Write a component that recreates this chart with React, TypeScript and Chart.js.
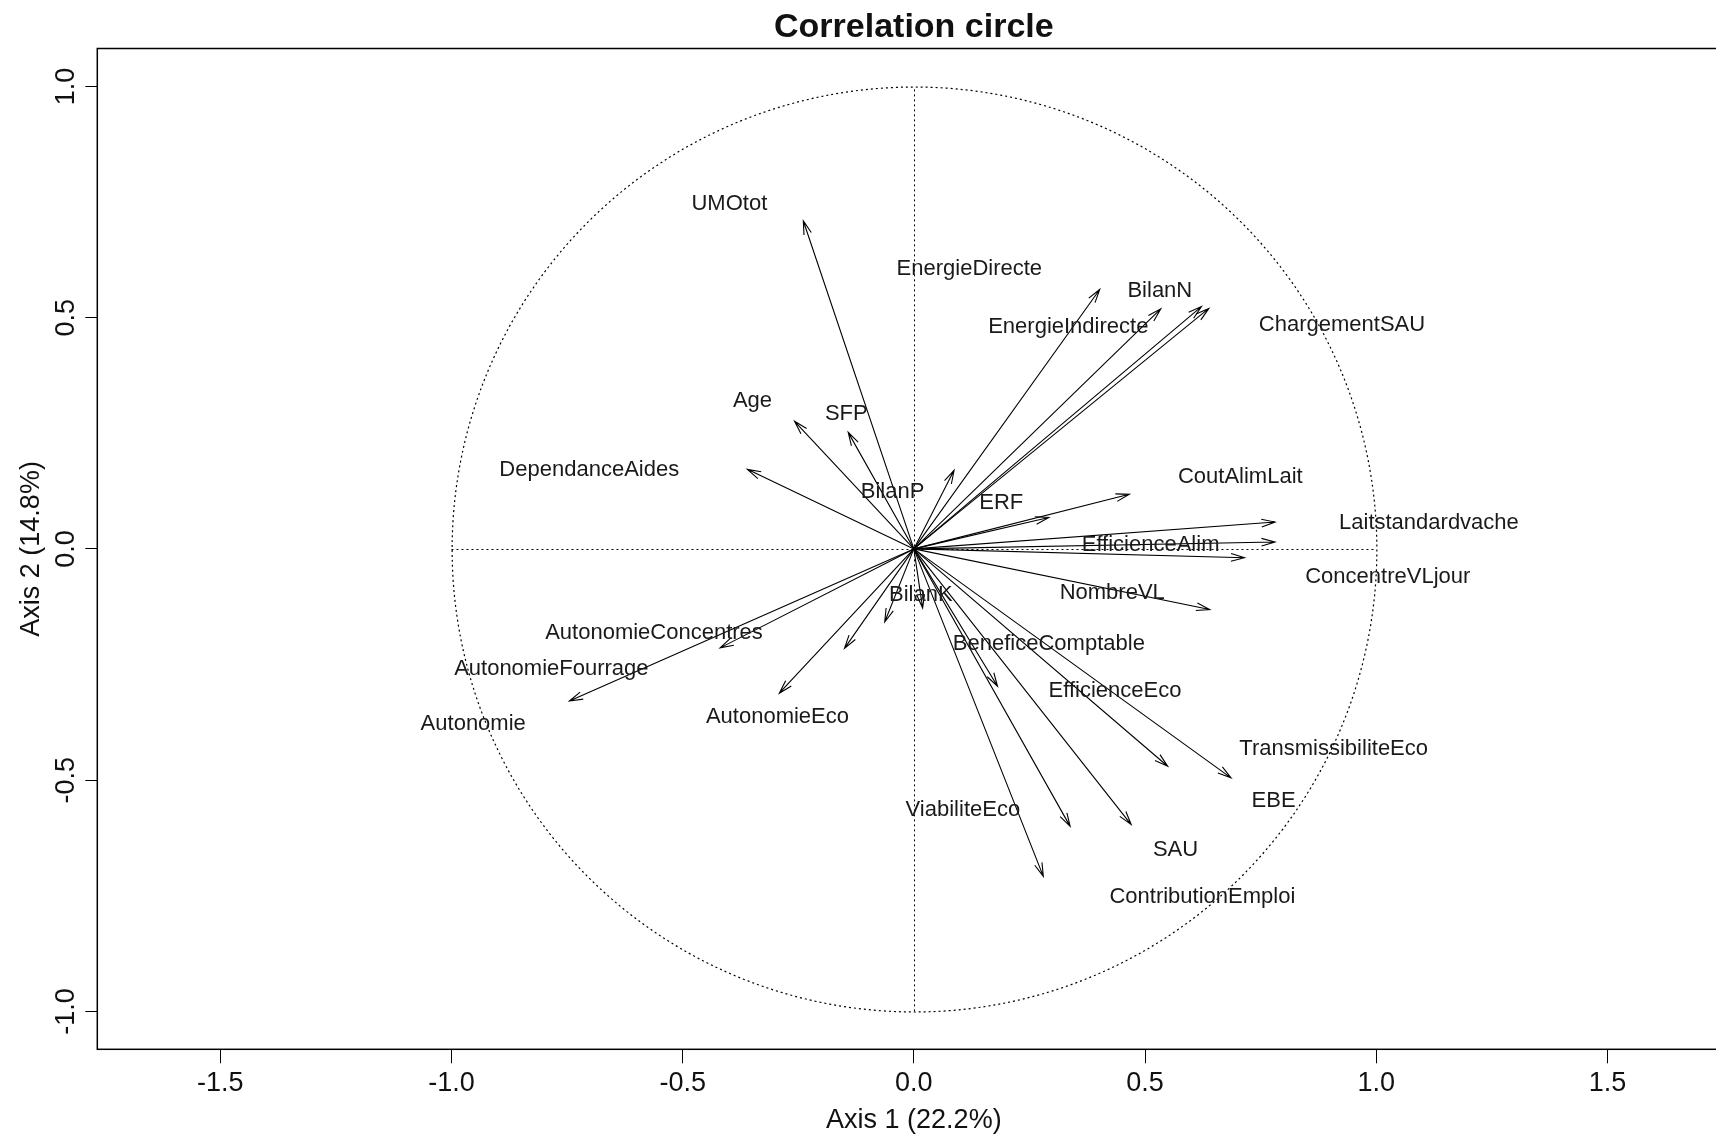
import React, { useEffect, useRef } from "react";
import { Chart, registerables } from "chart.js";

Chart.register(...registerables);

// ---- data ----
const arrowX = [
  -0.239, -0.258, -0.142, -0.36, 0.087, 0.402, 0.534, 0.622, 0.638, 0.292,
  0.466, 0.781, 0.781, 0.715, 0.64, 0.181, 0.549, 0.686, 0.338, 0.47, 0.28,
  0.019, -0.063, -0.15, -0.291, -0.419, -0.745,
];
const arrowY = [
  0.709, 0.276, 0.252, 0.172, 0.17, 0.561, 0.519, 0.524, 0.52, 0.068, 0.118,
  0.058, 0.015, -0.019, -0.131, -0.297, -0.47, -0.495, -0.6, -0.596, -0.708,
  -0.128, -0.158, -0.215, -0.312, -0.214, -0.329,
];

const labelNames = [
  "UMOtot", "EnergieDirecte", "BilanN", "EnergieIndirecte", "ChargementSAU",
  "Age", "SFP", "DependanceAides", "BilanP", "ERF", "CoutAlimLait",
  "Laitstandardvache", "EfficienceAlim", "ConcentreVLjour", "NombreVL",
  "BilanK", "AutonomieConcentres", "AutonomieFourrage", "Autonomie",
  "AutonomieEco", "BeneficeComptable", "EfficienceEco", "TransmissibiliteEco",
  "EBE", "ViabiliteEco", "SAU", "ContributionEmploi",
];
const labelX = [
  -0.399, 0.12, 0.532, 0.334, 0.926, -0.349, -0.146, -0.702, -0.046, 0.189,
  0.706, 1.114, 0.512, 1.025, 0.429, 0.015, -0.562, -0.784, -0.953, -0.295,
  0.292, 0.435, 0.908, 0.778, 0.106, 0.566, 0.624,
];
const labelY = [
  0.745, 0.605, 0.557, 0.48, 0.485, 0.319, 0.292, 0.17, 0.123, 0.1, 0.156,
  0.057, 0.0095, -0.061, -0.096, -0.099, -0.181, -0.259, -0.378, -0.363,
  -0.205, -0.308, -0.432, -0.546, -0.565, -0.652, -0.753,
];

const xTickValues = [-1.5, -1.0, -0.5, 0.0, 0.5, 1.0, 1.5];
const yTickValues = [-1.0, -0.5, 0.0, 0.5, 1.0];

const titleText = "Correlation circle";
const xAxisTitle = "Axis 1 (22.2%)";
const yAxisTitle = "Axis 2 (14.8%)";

// ---- layout ----
const VIEW_W = 1716;
const VIEW_H = 1138;
const CANVAS_W = 1760;
const CANVAS_H = 1138;
const AREA = { left: 97.3, top: 48.5, right: 1730.4, bottom: 1049.3 };
const X_MIN = -1.766;
const X_MAX = 1.766;
const Y_MIN = -1.082;
const Y_MAX = 1.082;
const FONT = "'Liberation Sans', Arial, sans-serif";

const corPlugin = {
  id: "corcircle",
  beforeDatasetsDraw(chart: any) {
    const { ctx, scales } = chart;
    const xs = scales.x;
    const ys = scales.y;
    const cx = Math.round(xs.getPixelForValue(0)) + 0.5;
    const cy = Math.round(ys.getPixelForValue(0)) + 0.5;
    const rx = xs.getPixelForValue(1) - xs.getPixelForValue(0);
    const ry = ys.getPixelForValue(0) - ys.getPixelForValue(1);
    ctx.save();
    ctx.strokeStyle = "#000";
    ctx.lineWidth = 1.2;
    ctx.setLineDash([2, 3]);
    ctx.beginPath();
    ctx.ellipse(cx, cy, rx, ry, 0, 0, Math.PI * 2);
    ctx.stroke();
    ctx.lineWidth = 1;
    ctx.beginPath();
    ctx.moveTo(xs.getPixelForValue(-1), cy);
    ctx.lineTo(xs.getPixelForValue(1), cy);
    ctx.moveTo(cx, ys.getPixelForValue(-1));
    ctx.lineTo(cx, ys.getPixelForValue(1));
    ctx.stroke();
    ctx.restore();
  },
  afterDatasetsDraw(chart: any) {
    const { ctx, scales, chartArea } = chart;
    const xs = scales.x;
    const ys = scales.y;
    const cx = xs.getPixelForValue(0);
    const cy = ys.getPixelForValue(0);

    // arrows
    const arrows = chart.getDatasetMeta(0).data;
    ctx.save();
    ctx.strokeStyle = "#000";
    ctx.lineWidth = 1.1;
    ctx.setLineDash([]);
    const headLen = 14;
    const headAng = (16 * Math.PI) / 180;
    arrows.forEach((pt: any) => {
      const px = pt.x;
      const py = pt.y;
      ctx.beginPath();
      ctx.moveTo(cx, cy);
      ctx.lineTo(px, py);
      const a = Math.atan2(py - cy, px - cx);
      ctx.moveTo(px - headLen * Math.cos(a - headAng), py - headLen * Math.sin(a - headAng));
      ctx.lineTo(px, py);
      ctx.lineTo(px - headLen * Math.cos(a + headAng), py - headLen * Math.sin(a + headAng));
      ctx.stroke();
    });
    ctx.restore();

    // variable labels
    const labels = chart.getDatasetMeta(1).data;
    ctx.save();
    ctx.fillStyle = "#1a1a1a";
    ctx.font = `22px ${FONT}`;
    ctx.textAlign = "center";
    ctx.textBaseline = "middle";
    labels.forEach((pt: any, i: number) => {
      ctx.fillText(labelNames[i], pt.x, pt.y);
    });
    ctx.restore();

    // box
    ctx.save();
    ctx.strokeStyle = "#000";
    ctx.lineWidth = 1.5;
    ctx.strokeRect(chartArea.left, chartArea.top, chartArea.right - chartArea.left, chartArea.bottom - chartArea.top);
    ctx.restore();
  },
  afterDraw(chart: any) {
    const { ctx, scales, chartArea } = chart;
    const xs = scales.x;
    const ys = scales.y;
    ctx.save();
    ctx.fillStyle = "#111";
    ctx.textAlign = "center";
    ctx.textBaseline = "middle";

    // title
    ctx.font = `bold 34px ${FONT}`;
    ctx.fillText(titleText, xs.getPixelForValue(0), chartArea.top - 21);

    // x axis title
    ctx.font = `27px ${FONT}`;
    ctx.fillText(xAxisTitle, xs.getPixelForValue(0), chartArea.bottom + 71);

    // y axis title
    ctx.save();
    ctx.translate(chartArea.left - 66, (chartArea.top + chartArea.bottom) / 2);
    ctx.rotate(-Math.PI / 2);
    ctx.fillText(yAxisTitle, 0, 0);
    ctx.restore();

    // y tick labels (rotated, as in R)
    yTickValues.forEach((v) => {
      const py = ys.getPixelForValue(v);
      ctx.save();
      ctx.translate(chartArea.left - 30.6, py);
      ctx.rotate(-Math.PI / 2);
      ctx.fillText(v.toFixed(1), 0, 0);
      ctx.restore();
    });
    ctx.restore();
  },
};

export default function App() {
  const canvasRef = useRef<HTMLCanvasElement | null>(null);

  useEffect(() => {
    document.body.style.margin = "0";
    document.body.style.overflow = "hidden";
    const canvas = canvasRef.current;
    if (!canvas) return;
    const chart = new Chart(canvas, {
      type: "scatter",
      data: {
        datasets: [
          {
            label: "arrows",
            data: arrowX.map((v, i) => ({ x: v, y: arrowY[i] })),
            pointRadius: 0,
            pointHoverRadius: 0,
            showLine: false,
          },
          {
            label: "labels",
            data: labelX.map((v, i) => ({ x: v, y: labelY[i] })),
            pointRadius: 0,
            pointHoverRadius: 0,
            showLine: false,
          },
        ],
      },
      options: {
        responsive: false,
        animation: false,
        events: [],
        layout: {
          padding: { left: 0, top: AREA.top, right: CANVAS_W - AREA.right, bottom: 0 },
        },
        plugins: {
          legend: { display: false },
          tooltip: { enabled: false },
          title: { display: false },
        },
        scales: {
          x: {
            type: "linear",
            position: "bottom",
            min: X_MIN,
            max: X_MAX,
            afterBuildTicks: (s: any) => {
              s.ticks = xTickValues.map((v) => ({ value: v }));
            },
            afterFit: (s: any) => {
              s.height = CANVAS_H - AREA.bottom;
            },
            grid: {
              display: true,
              drawOnChartArea: false,
              drawTicks: true,
              tickLength: 14,
              color: "#000",
              lineWidth: 1,
            },
            border: { display: false },
            ticks: {
              autoSkip: false,
              maxRotation: 0,
              minRotation: 0,
              padding: 4,
              color: "#111",
              font: { family: FONT, size: 27 },
              callback: (v: any) => Number(v).toFixed(1),
            },
          },
          y: {
            type: "linear",
            position: "left",
            min: Y_MIN,
            max: Y_MAX,
            afterBuildTicks: (s: any) => {
              s.ticks = yTickValues.map((v) => ({ value: v }));
            },
            afterFit: (s: any) => {
              s.width = AREA.left;
            },
            grid: {
              display: true,
              drawOnChartArea: false,
              drawTicks: true,
              tickLength: 12,
              color: "#000",
              lineWidth: 1,
            },
            border: { display: false },
            ticks: { display: false },
          },
        },
      },
      plugins: [corPlugin],
    });
    return () => {
      chart.destroy();
    };
  }, []);

  return (
    <div style={{ width: VIEW_W, height: VIEW_H, overflow: "hidden", background: "#fff" }}>
      <canvas
        ref={canvasRef}
        width={CANVAS_W}
        height={CANVAS_H}
        style={{ width: CANVAS_W, height: CANVAS_H, display: "block" }}
      />
    </div>
  );
}
